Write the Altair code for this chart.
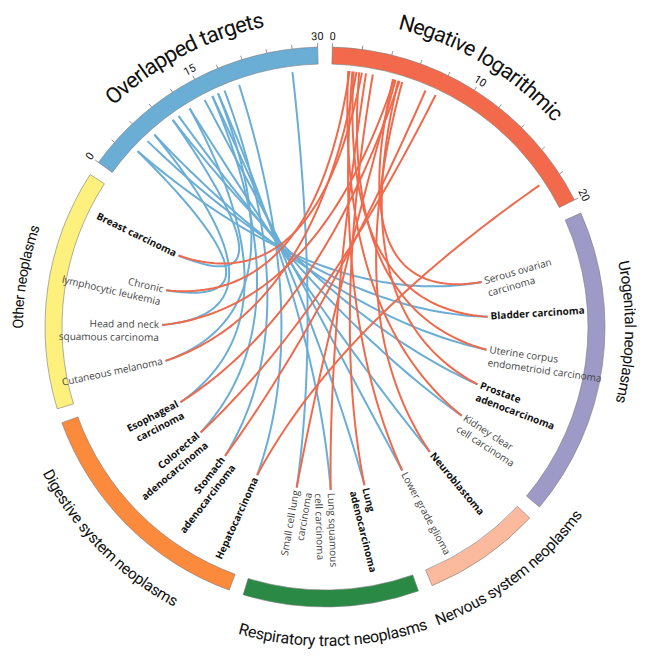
import math
import numpy as np
import pandas as pd
import altair as alt

# ---------------- data ----------------
sectors = ["Overlapped targets", "Negative logarithmic", "Urogenital neoplasms",
           "Nervous system neoplasms", "Respiratory tract neoplasms",
           "Digestive system neoplasms", "Other neoplasms"]
sector_colors = ["#6aaed6", "#f26a4b", "#9e9ac8", "#fbb99e", "#2a8a45", "#fb8a3c", "#fdf07c"]

cancers = ["Serous ovarian\ncarcinoma", "Bladder carcinoma",
           "Uterine corpus\nendometrioid carcinoma", "Prostate\nadenocarcinoma",
           "Kidney clear\ncell carcinoma", "Neuroblastoma", "Lower grade glioma",
           "Lung\nadenocarcinoma", "Lung squamous\ncell carcinoma",
           "Small cell lung\ncarcinoma", "Hepatocarcinoma", "Stomach\nadenocarcinoma",
           "Colorectal\nadenocarcinoma", "Esophageal\ncarcinoma", "Cutaneous melanoma",
           "Head and neck\nsquamous carcinoma", "Chronic\nlymphocytic leukemia",
           "Breast carcinoma"]
cancer_bold = [False, True, False, True, False, True, False, True, False, False,
               True, True, True, True, False, False, False, True]
neg_log_p = [4.5, 1.6, 2.0, 4.9, 1.2, 5.2, 1.5, 3.0, 2.5, 4.7,
             17.9, 7.0, 7.8, 5.0, 1.8, 4.6, 1.3, 2.2]
overlap = [4.1, 5.9, 7.1, 10.1, 11.0, 12.7, 14.9, 16.0, 16.8, 26.7,
           19.7, 17.7, 16.0, 12.7, 16.8, 7.1, 4.1, 10.1]

overlap_ticks = list(range(0, 31, 3))
overlap_tick_labels = [0, 15, 30]
neglog_ticks = list(range(0, 21, 2))
neglog_tick_labels = [0, 10, 20]

# ---------------- layout ----------------
W, H = 633, 643
PX, PY = 317, 319            # circle centre in plot pixels
XD = [-PX, W - PX]
YD = [-(H - PY), PY]
R_OUT, R_IN = 280, 263
R_START = 257
R_LABEL = 163
CTRL_K = 0.15
sector_span = [(-54, -1.5), (1.5, 63), (66, 130), (133, 157.5), (160.5, 197),
               (200, 250), (253, 303)]
title_mid = [-27.5, 31.0, 91.0, 142.7, 178.5, 225.5, 279.5]
title_radius = [313, 313, 305, 314, 314, 313, 306]
title_size = [22, 21.5, 15.5, 15.5, 16, 15.5, 14.5]
title_spacing = 0.95
label_angle = [74, 86.4, 98, 110.6, 123, 140, 151.7, 166, 178, 190, 204.6,
               217.8, 229.7, 242.5, 258, 270.7, 283, 296]
TITLE_FONT = "Roboto"

# approximate Roboto advance widths (em)
CW = {'a': .544, 'b': .561, 'c': .523, 'd': .563, 'e': .529, 'f': .347, 'g': .561,
      'h': .551, 'i': .243, 'j': .239, 'k': .507, 'l': .243, 'm': .876, 'n': .552,
      'o': .570, 'p': .561, 'q': .568, 'r': .338, 's': .516, 't': .327, 'u': .551,
      'v': .484, 'w': .751, 'x': .496, 'y': .473, 'z': .496, ' ': .248,
      'O': .688, 'N': .713, 'U': .648, 'D': .655, 'R': .631}


def ov_ang(v):
    a, b = sector_span[0]
    return a + v / 30.0 * (b - a)


def nl_ang(v):
    a, b = sector_span[1]
    return a + v / 20.0 * (b - a)


def pol(r, deg):
    t = math.radians(deg)
    return r * math.sin(t), r * math.cos(t)


def norm(a):
    return a % 360


# sectors (arcs)
arc_df = pd.DataFrame({
    "name": sectors,
    "t0": [math.radians(norm(s[0])) for s in sector_span],
    "t1": [math.radians(norm(s[0]) + (s[1] - s[0])) for s in sector_span],
    "color": sector_colors,
})

# sector titles, set character by character along the circle
crow = []
for i, nm in enumerate(sectors):
    mid = title_mid[i]
    r = title_radius[i]
    fs = title_size[i]
    m = norm(mid)
    bottom = 100 < m < 260
    direction = -1 if bottom else 1
    widths = [CW.get(c, 0.55) * fs * title_spacing for c in nm]
    total = sum(widths)
    cum = -total / 2
    for c, w in zip(nm, widths):
        centre = cum + w / 2
        cum += w
        if c == " ":
            continue
        a = mid + direction * math.degrees(centre / r)
        x, y = pol(r, a)
        ang = norm(a - 180) if bottom else norm(a)
        crow.append({"ch": c, "x": x, "y": y, "ang": ang, "size": fs, "title": nm})
title_df = pd.DataFrame(crow)

# ticks
tick_rows, tl_rows = [], []
for v in overlap_ticks:
    a = ov_ang(v)
    x1, y1 = pol(R_OUT, a); x2, y2 = pol(R_OUT + 4, a)
    tick_rows.append({"x": x1, "y": y1, "x2": x2, "y2": y2})
for v in neglog_ticks:
    a = nl_ang(v)
    x1, y1 = pol(R_OUT, a); x2, y2 = pol(R_OUT + 4, a)
    tick_rows.append({"x": x1, "y": y1, "x2": x2, "y2": y2})
for v in overlap_tick_labels:
    a = ov_ang(v)
    x, y = pol(R_OUT + 5, a)
    tl_rows.append({"x": x, "y": y, "t": str(v), "ang": norm(a)})
for v in neglog_tick_labels:
    a = nl_ang(v)
    x, y = pol(R_OUT + 5, a)
    tl_rows.append({"x": x, "y": y, "t": str(v), "ang": norm(a)})
tick_df = pd.DataFrame(tick_rows)
tl_df = pd.DataFrame(tl_rows)

# links: quadratic Bezier, control point pulled toward the centre
ts = np.linspace(0, 1, 60)


def links(values, to_ang, tag):
    rows = []
    for i, v in enumerate(values):
        x0, y0 = pol(R_START, to_ang(v))
        x2, y2 = pol(R_LABEL, label_angle[i])
        cx, cy = CTRL_K * (x0 + x2) / 2, CTRL_K * (y0 + y2) / 2
        for k, t in enumerate(ts):
            rows.append({"id": f"{tag}{i}", "k": k,
                         "x": (1 - t) ** 2 * x0 + 2 * (1 - t) * t * cx + t ** 2 * x2,
                         "y": (1 - t) ** 2 * y0 + 2 * (1 - t) * t * cy + t ** 2 * y2})
    return pd.DataFrame(rows)


blue_df = links(overlap, ov_ang, "b")
red_df = links(neg_log_p, nl_ang, "r")

# cancer labels
lrows = []
for i, c in enumerate(cancers):
    a = label_angle[i]
    x, y = pol(R_LABEL + 3, a)
    right = a < 180
    ang = norm(a - 90) if right else norm(a - 270)
    lrows.append({"name": c, "x": x, "y": y, "ang": ang, "right": right,
                  "bold": cancer_bold[i]})
lab_df = pd.DataFrame(lrows)

# ---------------- chart ----------------
def X(f="x"):
    return alt.X(f"{f}:Q", scale=alt.Scale(domain=XD, nice=False, zero=False), axis=None)


def Y(f="y"):
    return alt.Y(f"{f}:Q", scale=alt.Scale(domain=YD, nice=False, zero=False), axis=None)


arcs = alt.Chart(arc_df).mark_arc(radius=R_OUT, radius2=R_IN, stroke="#7a7a7a",
                                  strokeWidth=0.6).encode(
    theta=alt.Theta("t0:Q", scale=None), theta2="t1:Q",
    color=alt.Color("color:N", scale=None),
    x=alt.value(PX), y=alt.value(PY))

ticks = alt.Chart(tick_df).mark_rule(color="#777777", strokeWidth=0.8).encode(
    x=X(), y=Y(), x2="x2:Q", y2="y2:Q")

tick_labels = alt.Chart(tl_df).mark_text(font=TITLE_FONT, fontSize=11,
                                         baseline="bottom", align="center",
                                         color="#111111").encode(
    x=X(), y=Y(), text="t:N", angle=alt.Angle("ang:Q", scale=None))

titles = alt.Chart(title_df).mark_text(font=TITLE_FONT, baseline="middle",
                                       align="center", color="#111111").encode(
    x=X(), y=Y(), text="ch:N", angle=alt.Angle("ang:Q", scale=None),
    size=alt.Size("size:Q", scale=None), detail="title:N")

blue = alt.Chart(blue_df).mark_line(color="#6aaed6", strokeWidth=2).encode(
    x=X(), y=Y(), detail="id:N", order="k:Q")
red = alt.Chart(red_df).mark_line(color="#ef6a4c", strokeWidth=2).encode(
    x=X(), y=Y(), detail="id:N", order="k:Q")


def label_layer(right, bold):
    d = lab_df[(lab_df.right == right) & (lab_df.bold == bold)]
    return alt.Chart(d).mark_text(
        font="Open Sans, Noto Sans, sans-serif", fontSize=10,
        fontWeight="bold" if bold else "normal",
        color="#111111" if bold else "#444444",
        align="left" if right else "right", baseline="middle", lineBreak="\n",
        lineHeight=13).encode(
        x=X(), y=Y(), text="name:N", angle=alt.Angle("ang:Q", scale=None))


chart = alt.layer(
    blue, red, arcs, ticks, tick_labels, titles,
    label_layer(True, True), label_layer(True, False),
    label_layer(False, True), label_layer(False, False),
).properties(width=W, height=H, padding=0,
             autosize=alt.AutoSizeParams(type="none")).configure_view(stroke=None)

chart.save("out.html", embed_options={"renderer": "svg", "actions": False})
